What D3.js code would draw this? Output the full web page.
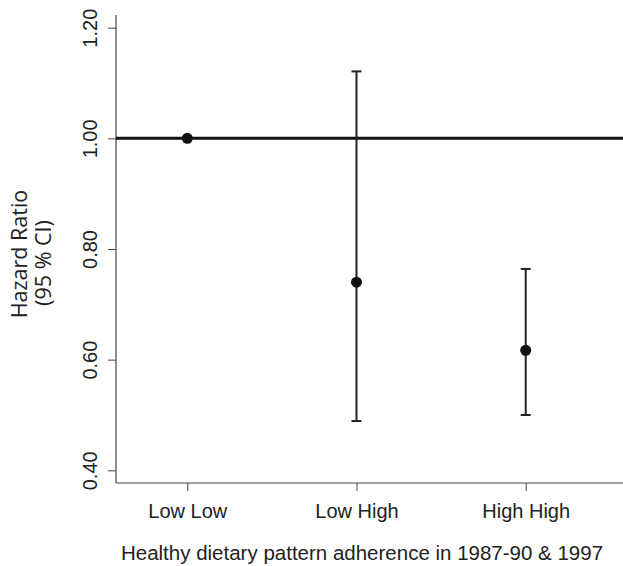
<!DOCTYPE html>
<html>
<head>
<meta charset="utf-8">
<script src="https://cdn.jsdelivr.net/npm/d3@7"></script>
<style>
  body { margin: 0; background: #fff; }
  text { font-family: "Liberation Sans", Arial, sans-serif; fill: #222; }
</style>
</head>
<body>
<div id="chart"></div>
<script>
// hazard ratios
var groups = ["Low Low", "Low High", "High High"];
var hr     = [1.00, 0.74, 0.617];
var lower  = [null, 0.489, 0.50];
var upper  = [null, 1.121, 0.764];
var yTicks = [0.40, 0.60, 0.80, 1.00, 1.20];

var width = 623, height = 566;
var axisX = 116, axisY = 483;   // where the axis lines sit

var svg = d3.select("#chart").append("svg")
    .attr("width", width)
    .attr("height", height);

var x = d3.scalePoint()
    .domain(groups)
    .range([187.3, 525.7]);

var y = d3.scaleLinear()
    .domain([0.4, 1.2])
    .range([470.3, 27.7]);

// y axis, labels turned on their side
var yAxis = svg.append("g")
    .attr("transform", "translate(" + axisX + ",0)")
    .call(d3.axisLeft(y).tickValues(yTicks).tickFormat(d3.format(".2f")).tickSize(8).tickPadding(0));
yAxis.select(".domain").remove();
yAxis.selectAll(".tick line").attr("stroke", "#444");
yAxis.selectAll(".tick text")
    .attr("x", 0)
    .attr("y", 0)
    .attr("dy", 0)
    .attr("transform", "translate(-19,0) rotate(-90)")
    .attr("text-anchor", "middle")
    .style("font-size", "20px");

// x axis
var xAxis = svg.append("g")
    .attr("transform", "translate(0," + axisY + ")")
    .call(d3.axisBottom(x).tickSize(8).tickPadding(0));
xAxis.select(".domain").remove();
xAxis.selectAll(".tick line").attr("stroke", "#444");
xAxis.selectAll(".tick text")
    .attr("y", 35)
    .attr("dy", 0)
    .style("font-size", "20px");

// axis lines, longer than the tick range
svg.append("line")
    .attr("x1", axisX).attr("x2", axisX)
    .attr("y1", 15).attr("y2", axisY)
    .attr("stroke", "#444").attr("stroke-width", 1.2);
svg.append("line")
    .attr("x1", axisX).attr("x2", width)
    .attr("y1", axisY).attr("y2", axisY)
    .attr("stroke", "#444").attr("stroke-width", 1.2);

// reference line at HR = 1
svg.append("line")
    .attr("x1", axisX).attr("x2", width)
    .attr("y1", y(1)).attr("y2", y(1))
    .attr("stroke", "#111").attr("stroke-width", 3);

var rows = groups.map(function(g, i) {
  return { g: g, hr: hr[i], lo: lower[i], hi: upper[i] };
});
var withCI = rows.filter(function(d) { return d.lo != null; });

svg.append("g").selectAll("line")
    .data(withCI)
    .enter().append("line")
    .attr("x1", function(d) { return x(d.g); })
    .attr("x2", function(d) { return x(d.g); })
    .attr("y1", function(d) { return y(d.lo); })
    .attr("y2", function(d) { return y(d.hi); })
    .attr("stroke", "#222").attr("stroke-width", 2);

var cap = 5;
["lo", "hi"].forEach(function(k) {
  svg.append("g").selectAll("line")
      .data(withCI)
      .enter().append("line")
      .attr("x1", function(d) { return x(d.g) - cap; })
      .attr("x2", function(d) { return x(d.g) + cap; })
      .attr("y1", function(d) { return y(d[k]); })
      .attr("y2", function(d) { return y(d[k]); })
      .attr("stroke", "#222").attr("stroke-width", 2);
});

svg.append("g").selectAll("circle")
    .data(rows)
    .enter().append("circle")
    .attr("cx", function(d) { return x(d.g); })
    .attr("cy", function(d) { return y(d.hr); })
    .attr("r", 5.5)
    .attr("fill", "#111");

// axis titles
svg.append("text")
    .attr("x", 362).attr("y", 560)
    .attr("text-anchor", "middle")
    .style("font-size", "20.5px")
    .text("Healthy dietary pattern adherence in 1987-90 & 1997");

svg.append("text")
    .attr("transform", "translate(27,254) rotate(-90)")
    .attr("text-anchor", "middle")
    .style("font-family", "'Open Sans', sans-serif")
    .style("font-size", "21.5px")
    .text("Hazard Ratio");
svg.append("text")
    .attr("transform", "translate(51,263) rotate(-90)")
    .attr("text-anchor", "middle")
    .style("font-family", "'Open Sans', sans-serif")
    .style("font-size", "21.5px")
    .text("(95 % CI)");
</script>
</body>
</html>
